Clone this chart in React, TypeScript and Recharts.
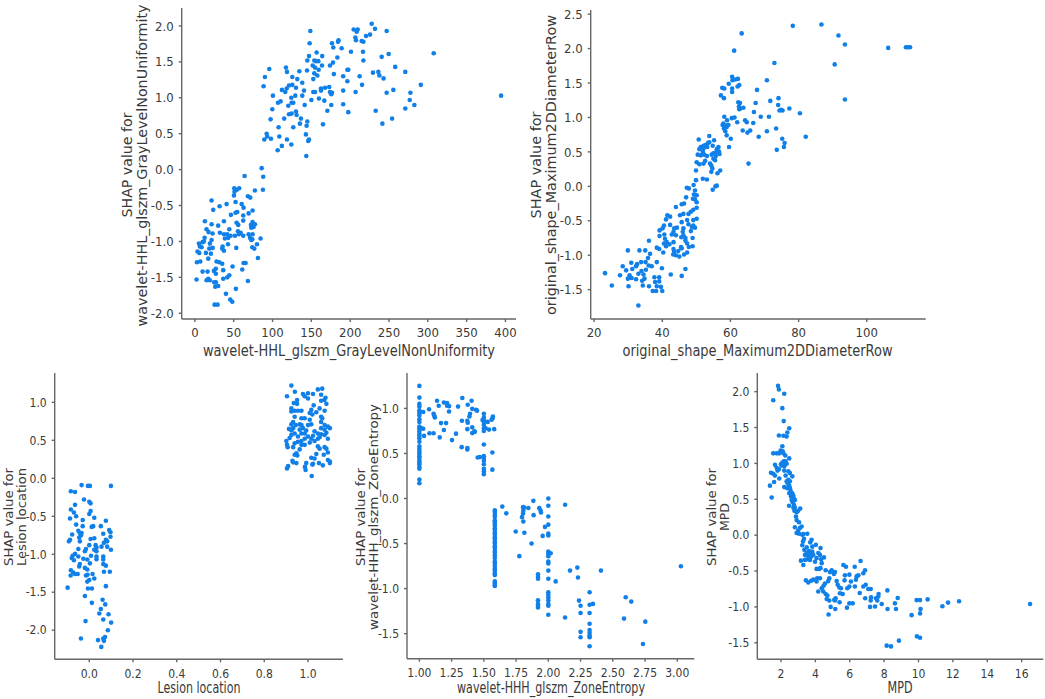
import React from "react";
import { ScatterChart, Scatter, XAxis, YAxis } from "recharts";

type Pair = number[];

const glrlmPoints: Pair[] = [[394.4,1.03],[307.6,1.62],[291,1.18],[277.6,1.07],[276.7,.97],[282.7,.9],[271,.85],[271,1.36],[258,1.43],[255.6,1.11],[254,.71],[249.6,1.61],[247,1.93],[247,1.07],[241.5,.64],[232.9,.82],[243,1.27],[240.6,1.57],[232,1.96],[227.7,2.03],[225.6,1.88],[220.4,1.86],[229.4,1.35],[236.3,1.36],[237.6,1.31],[217,1.52],[216.5,1.64],[214.8,1.79],[217,1.78],[207.5,1.8],[206.7,1.84],[204.5,1.95],[209.7,1.95],[208.4,1.92],[201,1.64],[212.2,1.3],[215.3,1.18],[207,1.08],[196.4,1.23],[196.4,1.39],[197.6,1.39],[191,1.3],[191,1.1],[191,.91],[197.6,.8],[189,1.69],[185,1.8],[184.3,1.78],[183.5,1.56],[178.3,1.7],[176.6,1.76],[177.9,1.49],[174,1.45],[179,1.33],[167.6,1.14],[173,1.15],[174,1.08],[176.6,1.07],[175.7,1.05],[175.7,.9],[170.6,.82],[166.7,.96],[159.8,.99],[165,.63],[162.4,1.13],[162.4,1.1],[150,.97],[152.5,1.08],[154.7,1.08],[152.5,1.26],[157.7,1.31],[153.8,1.34],[159.4,1.39],[163.7,1.45],[164,1.58],[156.8,1.63],[159,1.51],[156,1.51],[153.8,1.52],[154.7,1.42],[151.7,1.45],[147,1.58],[144.8,1.52],[144.4,1.38],[147.8,1.76],[148.7,1.93],[134.5,1.37],[131.9,1.26],[138.3,1.21],[125.5,1.29],[117.3,1.42],[118.6,1.36],[125.5,1.18],[121.2,1.17],[118.2,1.13],[116.4,1.08],[112.1,1.11],[130.2,1.14],[140.5,1.1],[138.3,1.03],[129.3,1.03],[124.2,1],[120.3,.89],[126.7,.93],[124.6,.93],[141.4,.9],[110.4,.95],[107,.93],[100.5,1.03],[99.7,.84],[97.5,.7],[115,.71],[121.2,.77],[124.6,.78],[130.2,.81],[131,.76],[136.6,.71],[135.3,.64],[144.8,.67],[143.9,.61],[126.7,.59],[107.8,.59],[143,.49],[147,.42],[146,.4],[108.7,.46],[118.6,.42],[124.2,.35],[112,.33],[106.6,.27],[143.5,.19],[98,.43],[92.4,.5],[93.2,.46],[89.4,.42],[95.8,1.4],[90.2,1.29],[88.5,1.16],[86,.02],[88,-.1],[87.6,-.28],[64,-.09],[77.3,-.29],[57,-.26],[50.7,-.26],[54,-.28],[51,-.31],[50.3,-.36],[68.3,-.37],[71.3,-.39],[52.4,-.45],[60.2,-.48],[40.8,-.48],[21.5,-.43],[31.8,-.51],[23.6,-.56],[62.7,-.53],[74.3,-.57],[54.6,-.59],[52.4,-.6],[46.4,-.63],[62.3,-.64],[69.2,-.61],[62.3,-.71],[12.9,-.72],[37.4,-.72],[21.5,-.76],[30,-.78],[53.7,-.74],[55.9,-.77],[74.3,-.73],[77.3,-.76],[72.2,-.77],[75.6,-.8],[72.6,-.81],[15,-.83],[44.3,-.83],[17.6,-.87],[22.8,-.89],[32.2,-.88],[37.4,-.9],[41.7,-.9],[55.4,-.86],[58.9,-.88],[56.7,-.9],[46,-.92],[51.6,-.92],[62.3,-.92],[69.2,-.9],[74.3,-.9],[84.6,-.96],[70.9,-.95],[73.9,-.97],[72.6,-.98],[12.5,-.95],[21.5,-.98],[38.6,-.96],[43,-.95],[11.6,-1],[5.2,-1.03],[9.9,-1.01],[19.3,-1.03],[42.6,-1.04],[80,-1.04],[6.4,-1.07],[8.6,-1.08],[35.7,-1.07],[35.2,-1.1],[18.5,-1.1],[22.8,-1.09],[53.3,-1.09],[73.9,-1.08],[76.5,-1.1],[3.4,-1.14],[5.6,-1.16],[14.2,-1.16],[37.4,-1.13],[20.6,-1.17],[17.2,-1.24],[81.2,-1.23],[2.6,-1.29],[6.9,-1.28],[27.9,-1.28],[31.4,-1.29],[35.2,-1.31],[62.7,-1.3],[65.3,-1.3],[48.5,-1.35],[61,-1.39],[36.5,-1.4],[9.9,-1.42],[16.3,-1.42],[27,-1.38],[24.5,-1.41],[27,-1.45],[44.3,-1.47],[41.7,-1.5],[36.5,-1.52],[2.1,-1.53],[17.2,-1.52],[15,-1.54],[19.3,-1.54],[68.3,-1.55],[24.9,-1.57],[27,-1.57],[26.2,-1.63],[30,-1.62],[52.8,-1.66],[40,-1.73],[45.5,-1.81],[48.1,-1.84],[25.3,-1.88],[29.2,-1.88]];

const diameterPoints: Pair[] = [[112.7,2.02],[112,2.02],[111.5,2.02],[106.3,2.01],[93.6,2.06],[91.7,2.19],[86.7,2.35],[78.3,2.33],[90.6,1.77],[93.6,1.26],[63.3,2.22],[61.1,1.97],[72.9,1.79],[70.7,1.54],[67.8,1.4],[67.4,1.21],[71.7,1.24],[74.1,1.28],[74,1.18],[74.4,1.1],[75.3,1.1],[74.9,1.11],[77.3,1.13],[80.4,1.06],[71.3,1.01],[68.9,1.01],[66.9,1.08],[66.7,.92],[73.4,.84],[70.7,.8],[68.3,.72],[82.1,.72],[75.2,.69],[75.9,.63],[75.7,.57],[73.6,.53],[65.3,.33],[64.3,.96],[64.8,.93],[65.8,.81],[65,.78],[63.6,.81],[62,.93],[61.2,1],[60.4,.99],[58.2,1.01],[59,.96],[57.9,.91],[57.7,.89],[58.4,.89],[59.4,.89],[58.1,.84],[58.9,.86],[58.5,.8],[58.9,.74],[60.1,.69],[59.6,.57],[62.3,1.22],[62.8,1.21],[62.5,1.16],[62.9,1.13],[63.8,1.14],[62.6,1.12],[57.2,1.32],[58.1,1.28],[57.6,1.43],[58.2,1.42],[59.5,1.49],[60.5,1.59],[60.6,1.54],[61.4,1.55],[62.2,1.56],[60.5,1.42],[60.5,1.37],[62.1,1.45],[62.6,1.47],[50.7,.68],[53.8,.73],[55.2,.67],[53.4,.63],[53.8,.64],[52.7,.6],[52.1,.59],[51.3,.57],[50.9,.54],[52.1,.55],[53.2,.57],[54.8,.59],[56.5,.57],[56,.54],[56.6,.51],[55.7,.49],[56.8,.47],[55,.48],[54.5,.46],[55.7,.44],[55,.4],[55.5,.38],[50.4,.46],[51.3,.45],[52.3,.46],[53.1,.44],[51.9,.5],[50.1,.35],[50.9,.32],[52.6,.37],[52.1,.33],[54,.33],[54.4,.3],[54.7,.26],[54.4,.21],[56.2,.19],[57,.23],[49.9,.23],[51.9,.11],[53.1,.1],[49.9,.09],[49.2,.02],[56,.01],[55.6,0],[54.8,-.05],[47.2,-.02],[47.8,-.03],[49.6,-.06],[49.3,-.12],[50.1,-.13],[47,-.16],[49,-.18],[49.6,-.19],[50.1,-.23],[46.4,-.25],[45.7,-.26],[44,-.3],[50.1,-.31],[49.1,-.34],[48.4,-.37],[47.7,-.4],[46.2,-.4],[45.2,-.42],[41.5,-.42],[42.3,-.44],[41.1,-.48],[50.1,-.47],[49.1,-.49],[47.3,-.49],[45.7,-.52],[47.7,-.55],[40.5,-.57],[42.3,-.56],[49.1,-.57],[48.7,-.59],[49.6,-.6],[44.3,-.6],[43.5,-.61],[46.2,-.61],[39.2,-.64],[40.1,-.61],[48.4,-.65],[46,-.66],[43.3,-.66],[42.8,-.7],[39.2,-.72],[40.6,-.7],[44,-.71],[46.2,-.71],[45.6,-.74],[46.8,-.75],[48.9,-.75],[40.8,-.76],[36.1,-.79],[41.3,-.81],[43.3,-.81],[46.8,-.79],[40.5,-.83],[42.1,-.84],[47.3,-.83],[41.1,-.87],[38.4,-.89],[45.5,-.88],[47.8,-.88],[48.9,-.87],[39.1,-.91],[43.3,-.91],[45.7,-.9],[29.9,-.93],[33.3,-.93],[35,-.93],[40.3,-.96],[43.5,-.95],[44.7,-.94],[47.3,-.96],[36.4,-.98],[43.2,-.99],[44,-1],[46.4,-.99],[45,-1.02],[35.8,-1.04],[35.1,-1.1],[33.8,-1.1],[30.9,-1.11],[38.4,-1.1],[28.4,-1.16],[32.6,-1.13],[32.3,-1.16],[36,-1.15],[36.9,-1.16],[39.9,-1.19],[46.8,-1.2],[29.4,-1.22],[31.2,-1.2],[35.2,-1.21],[33.9,-1.23],[42.5,-1.28],[45.7,-1.3],[27.6,-1.29],[30.4,-1.29],[23.2,-1.26],[33,-1.27],[34.5,-1.28],[29.9,-1.34],[31,-1.33],[32.3,-1.35],[34.8,-1.34],[37.7,-1.32],[39.1,-1.32],[39.1,-1.38],[34.1,-1.37],[37.9,-1.39],[25.2,-1.44],[30.1,-1.45],[34.3,-1.44],[36.1,-1.45],[38.4,-1.45],[39.6,-1.46],[37.2,-1.52],[38.2,-1.52],[40,-1.52],[33,-1.73]];

const lesionPoints: Pair[] = [[.924,1.22],[1.065,1.18],[1.045,1.17],[.94,1.14],[.904,1.08],[.977,1.11],[1,1.12],[1.023,1.11],[.985,1.08],[1.06,1.1],[1.08,1.06],[.95,1.03],[1.075,1.03],[1.06,1.02],[1,1.05],[.935,.99],[.95,.98],[1.084,.98],[1.026,.96],[1.053,.92],[.924,.92],[.939,.89],[.954,.89],[.97,.89],[1.015,.9],[.924,.88],[1.008,.86],[1.038,.87],[1.076,.89],[1.02,.84],[1.06,.81],[.939,.81],[.97,.79],[.985,.79],[1.008,.77],[1.065,.79],[.932,.74],[.924,.71],[1.06,.74],[.962,.71],[1.015,.71],[1.076,.7],[.944,.7],[.97,.7],[1,.7],[1.091,.68],[.913,.65],[.932,.66],[.977,.66],[1.06,.66],[1.1,.66],[.924,.63],[.962,.64],[.992,.63],[1.03,.62],[1.076,.64],[1.084,.6],[.939,.59],[.97,.59],[.985,.59],[1.045,.59],[1.06,.58],[.924,.57],[.954,.55],[1,.55],[1.023,.56],[1.076,.57],[.916,.53],[.985,.52],[1.015,.52],[1.091,.52],[1.045,.52],[1.053,.54],[.901,.49],[.97,.49],[1.03,.49],[.939,.46],[.954,.48],[1.008,.47],[.985,.44],[.904,.44],[.97,.44],[.932,.41],[1.045,.42],[1.076,.41],[.907,.41],[.962,.38],[1.053,.39],[1.084,.39],[1.091,.34],[.947,.33],[.939,.31],[1.038,.32],[.951,.3],[1.072,.31],[1.015,.27],[1.03,.26],[.929,.23],[1.091,.24],[.932,.21],[1.1,.22],[.947,.2],[.992,.2],[1.05,.2],[1.1,.2],[1.023,.19],[1.02,.18],[1.068,.17],[.909,.16],[.904,.13],[.986,.15],[.989,.11],[1.017,.03],[.099,-.1],[-.035,-.09],[-.006,-.1],[.003,-.1],[-.084,-.17],[-.065,-.18],[-.024,-.28],[0,-.31],[.006,-.33],[-.065,-.35],[-.084,-.41],[-.07,-.45],[.006,-.43],[0,-.47],[-.06,-.5],[-.088,-.53],[.023,-.52],[-.03,-.55],[.076,-.56],[-.06,-.61],[-.03,-.63],[.018,-.63],[.011,-.64],[.053,-.63],[-.05,-.69],[.091,-.68],[.097,-.71],[-.078,-.74],[-.043,-.72],[-.038,-.75],[-.035,-.72],[.064,-.73],[.097,-.77],[-.046,-.78],[.006,-.8],[.023,-.79],[-.088,-.81],[-.093,-.83],[-.043,-.83],[.076,-.81],[.082,-.83],[.067,-.85],[.056,-.9],[0,-.88],[.029,-.88],[.033,-.91],[-.015,-.93],[-.05,-.93],[.023,-.94],[.099,-.94],[.082,-.9],[-.02,-.96],[.033,-.96],[-.065,-.995],[-.076,-1.02],[.008,-1.02],[.033,-1.03],[.064,-1.03],[-.05,-1.03],[-.08,-1.05],[-.027,-1.06],[-.07,-1.08],[-.009,-1.07],[.064,-1.07],[.033,-1.065],[.003,-1.12],[-.043,-1.13],[.064,-1.13],[.076,-1.15],[-.046,-1.16],[-.02,-1.18],[-.084,-1.21],[-.009,-1.2],[.094,-1.23],[.067,-1.23],[-.073,-1.24],[-.053,-1.26],[-.065,-1.26],[.015,-1.26],[-.085,-1.28],[-.015,-1.28],[-.008,-1.27],[.023,-1.32],[0,-1.34],[-.009,-1.36],[-.099,-1.44],[-.006,-1.45],[.012,-1.45],[.076,-1.42],[-.02,-1.55],[.061,-1.6],[.012,-1.64],[.073,-1.66],[.053,-1.72],[.046,-1.78],[.088,-1.79],[.064,-1.86],[-.017,-1.88],[.1,-1.9],[.085,-2],[-.038,-2.11],[.072,-2.09],[.064,-2.11],[.04,-2.13],[.067,-2.14],[.055,-2.22]];

const entropyScattered: Pair[] = [[1.03,.96],[1.075,.99],[1.11,.94],[1.115,.92],[1.12,.9],[1.137,1.085],[1.15,1.03],[1.19,1.065],[1.215,1.06],[1.215,1.03],[1.23,1.025],[1.23,.965],[1.3,1.02],[1.333,1.115],[1.375,1.04],[1.405,1.085],[1.41,.995],[1.44,.985],[1.447,.975],[1.393,.94],[1.388,.91],[1.33,.863],[1.372,.863],[1.375,.84],[1.168,.837],[1.207,.837],[1.41,.79],[1.372,.77],[1.19,.76],[1.018,.78],[1.03,.775],[1.426,.745],[1.43,.74],[1.41,.726],[1.078,.725],[1.11,.725],[1.284,.72],[1.036,.695],[1.158,.678],[1.253,.648],[1.328,.57],[1.372,.56],[1.372,.545],[1.49,.87],[1.53,.85],[1.56,.875],[1.568,.89],[1.57,.91],[1.514,.78],[1.54,.765],[1.58,.77],[1.566,.51],[1.566,.32],[1.452,.455],[1.47,.46],[1.643,-.09],[1.674,-.165],[1.747,-.367],[1.814,-.38],[1.775,-.64],[1.87,-.5],[1.884,-.026],[1.886,-.185],[1.845,-.105],[1.796,-.207],[1.806,-.255],[1.804,-.096],[1.814,-.1],[1.806,-.137],[1.804,-.167],[1.93,-.107],[1.94,-.133],[1.943,-.155],[1.974,-.315],[1.956,-.415],[2.018,-.607],[2.057,-.92],[2.13,-.07],[2.13,-1.32],[2.168,-.8],[2.225,-.767],[2.23,-.877],[2.238,-1.133],[2.346,-1.17],[2.408,-.8],[2.6,-1.096],[2.643,-1.144],[2.587,-1.333],[2.752,-1.367],[2.734,-1.615],[3.028,-.752]];
const entropyAt100 = [1.25,1.12,1.05,1.02,.98,.95,.92,.88,.85,.8,.78,.75,.72,.7,.67,.63,.58,.55,.52,.5,.47,.45,.42,.4,.38,.35,.33,.21,.17];
const entropyAt150 = [.94,.9,.87,.85,.82,.78,.75,.6,.47,.45,.42,.38,.33,.3,.27];
const entropyAt158 = [-.13,-.15,-.18,-.2,-.24,-.26,-.28,-.3,-.33,-.35,-.38,-.4,-.43,-.45,-.48,-.5,-.53,-.55,-.58,-.6,-.63,-.66,-.7,-.72,-.75,-.78,-.8,-.83,-.85,-.92,-.94,-.96,-.97];
const entropyAt192 = [-.84,-.87,-.89,-1.13,-1.17,-1.19,-1.21];
const entropyAt200 = [0,-.08,-.2,-.29,-.39,-.41,-.59,-.61,-.64,-.7,-.72,-.8,-.89,-1.04,-1.07,-1.1,-1.13,-1.17,-1.19,-1.29];
const entropyAt225 = [-1.19,-1.27,-1.48,-1.54];
const entropyAt232 = [-1.04,-1.18,-1.27,-1.39,-1.46,-1.49,-1.52,-1.54,-1.64];
const entropyPoints: Pair[] = [
  ...entropyScattered,
  ...entropyAt100.map((y) => [1, y]),
  ...entropyAt150.map((y) => [1.5, y]),
  ...entropyAt158.map((y) => [1.585, y]),
  ...entropyAt192.map((y) => [1.92, y]),
  ...entropyAt200.map((y) => [2, y]),
  ...entropyAt225.map((y) => [2.25, y]),
  ...entropyAt232.map((y) => [2.32, y]),
];

const mpdPoints: Pair[] = [[1.83,2.08],[1.88,2.03],[2.19,1.97],[1.55,1.88],[2.08,1.77],[2.16,1.59],[2.48,1.49],[2.37,1.43],[1.88,1.39],[2.14,1.385],[2.33,1.375],[2.08,1.24],[1.55,1.14],[1.75,1.14],[1.9,1.14],[1.98,1.18],[2.1,1.17],[2.14,1.14],[2.25,1.11],[2.48,1.07],[1.65,.98],[2,.99],[2.08,1.01],[2.16,1.03],[2.23,1],[2.12,.98],[2.19,.96],[2.27,1.03],[2.33,.995],[2.04,.97],[1.75,.94],[1.88,.92],[1.8,.9],[1.42,.87],[1.55,.855],[1.65,.83],[2.19,.9],[2.43,.89],[2.52,.865],[2.66,.82],[2.27,.83],[1.9,.79],[1.6,.74],[1.36,.69],[1.46,.525],[2.43,.77],[2.33,.75],[2.52,.75],[2.39,.72],[2.48,.69],[2.19,.67],[2.37,.655],[2.52,.655],[2.56,.62],[2.48,.585],[2.66,.585],[2.72,.55],[2.58,.54],[2.76,.51],[2.62,.49],[2.81,.49],[2.68,.46],[2.47,.41],[2.76,.42],[2.72,.385],[2.81,.385],[3.12,.37],[3,.34],[2.78,.34],[2.91,.32],[2.87,.26],[2.91,.21],[3.05,.18],[2.81,.11],[3.2,.12],[3.1,.1],[3,.065],[2.91,.03],[3.05,.02],[3.24,.005],[3.3,.015],[3.53,.02],[3.34,-.05],[3.28,-.09],[3.24,-.14],[3.78,-.065],[3.7,-.1],[4.03,-.135],[4.3,-.18],[3.5,-.17],[3.36,-.205],[3.82,-.16],[3.63,-.22],[3.5,-.25],[3.69,-.25],[3.82,-.23],[3.4,-.275],[3.59,-.29],[3.75,-.3],[3.88,-.275],[4.17,-.25],[4.27,-.275],[3.55,-.335],[3.4,-.345],[3.16,-.355],[3.69,-.345],[4.07,-.32],[4.33,-.335],[4.5,-.31],[3.98,-.37],[4.37,-.39],[3.3,-.415],[4.21,-.47],[4.07,-.47],[4.3,-.46],[3.45,-.63],[3.59,-.66],[3.75,-.635],[3.88,-.62],[4.11,-.6],[4.27,-.6],[4.07,-.645],[4.6,-.49],[4.95,-.49],[4.85,-.515],[5.14,-.515],[5.08,-.54],[4.81,-.6],[4.75,-.64],[4.56,-.675],[4.48,-.705],[4.37,-.74],[4.17,-.785],[4.46,-.785],[4.6,-.82],[4.7,-.84],[4.66,-.89],[4.81,-.91],[4.89,-1],[5.16,-1.03],[4.77,-1.105],[5.14,-.91],[5.24,-.64],[5.3,-.69],[5.4,-.73],[5.49,-.74],[5.59,-.82],[5.43,-.81],[5.41,-.935],[5.63,-.415],[5.78,-.44],[5.72,-.56],[5.7,-.63],[5.98,-.55],[5.86,-.74],[5.98,-.715],[6.07,-.645],[6.29,-.44],[6.63,-.36],[6.4,-.575],[6.5,-.56],[6.36,-.62],[6.3,-.715],[6.58,-.805],[6.89,-.49],[6.79,-.53],[6.79,-.715],[6.93,-.69],[6.9,-.88],[7.08,-.75],[7.22,-.75],[7.24,-.865],[7.22,-.91],[7.18,-1],[7.47,-.995],[7.53,-.88],[7.66,-.855],[7.68,-.82],[7.6,-.91],[7.86,-.96],[8.19,-.77],[8.2,-1.03],[5.84,-1.01],[5.98,-.95],[6.17,-.95],[8.79,-.875],[8.63,-.95],[8.69,-1.03],[8.15,-1.54],[8.4,-1.55],[8.86,-1.47],[9.6,-1.115],[9.89,-.905],[10.09,-.905],[10.53,-.895],[10.12,-1.03],[10.09,-1.09],[9.91,-1.41],[10.09,-1.43],[11.39,-.99],[11.72,-.94],[12.36,-.92],[16.49,-.96],[5.18,-.88],[5.1,-.9]];

const hhlXTicks = [0, 50, 100, 150, 200, 250, 300, 350, 400];
const hhlYTicks = [-2, -1.5, -1, -0.5, 0, 0.5, 1, 1.5, 2];
const diameterXTicks = [20, 40, 60, 80, 100];
const diameterYTicks = [-1.5, -1, -0.5, 0, 0.5, 1, 1.5, 2, 2.5];
const lesionXTicks = [0, 0.2, 0.4, 0.6, 0.8, 1];
const lesionYTicks = [-2, -1.5, -1, -0.5, 0, 0.5, 1];
const entropyXTicks = [1, 1.25, 1.5, 1.75, 2, 2.25, 2.5, 2.75, 3];
const entropyYTicks = [-1.5, -1, -0.5, 0, 0.5, 1];
const mpdXTicks = [2, 4, 6, 8, 10, 12, 14, 16];
const mpdYTicks = [-1.5, -1, -0.5, 0, 0.5, 1, 1.5, 2];

const DOT = "#1080E8";
const AXIS = "#666666";
const INK = "#3a3a3a";
const W = 1045;
const H = 699;
const YW = 50;
const XH = 40;

type PanelProps = {
  points: Pair[];
  box: number[]; // left, top, right, bottom
  xDomain: number[];
  yDomain: number[];
  xTicks: number[];
  yTicks: number[];
  xFmt: (v: number) => string;
  xLabel: { text: string; x: number; y: number; len: number };
  yLabels: { text: string; x: number; y: number; len: number }[];
  fs: number;
  yFs: number;
  tickFs: number;
  xMargin: number;
};

const dot = (p: any) => <circle cx={p.cx} cy={p.cy} r={2.3} fill={DOT} />;

function Panel({ points, box, xDomain, yDomain, xTicks, yTicks, xFmt, xLabel, yLabels, fs, yFs, tickFs, xMargin }: PanelProps) {
  const data = points.map(([x, y]) => ({ x, y }));
  const tickStyle = { fontSize: tickFs, fontFamily: "'DejaVu Sans Condensed', 'DejaVu Sans'", fill: INK };
  return (
    <div style={{ position: "absolute", left: 0, top: 0, width: W, height: H, overflow: "hidden" }}>
      <ScatterChart
        width={W}
        height={H}
        margin={{ left: box[0] - YW, top: box[1], right: W - box[2], bottom: H - box[3] - XH }}
      >
        <XAxis
          type="number"
          dataKey="x"
          domain={xDomain}
          ticks={xTicks}
          tickFormatter={xFmt}
          allowDataOverflow
          height={XH}
          tick={tickStyle}
          stroke={AXIS}
          strokeWidth={1.4}
          tickSize={3}
          tickMargin={xMargin}
          interval={0}
        />
        <YAxis
          type="number"
          dataKey="y"
          domain={yDomain}
          ticks={yTicks}
          tickFormatter={(v: number) => v.toFixed(1)}
          allowDataOverflow
          width={YW}
          tick={tickStyle}
          stroke={AXIS}
          strokeWidth={1.4}
          tickSize={3}
          tickMargin={5}
          interval={0}
        />
        <Scatter data={data} shape={dot} isAnimationActive={false} />
        <text
          x={xLabel.x}
          y={xLabel.y}
          textAnchor="middle"
          dominantBaseline="central"
          fontSize={fs}
          fontFamily="'DejaVu Sans'"
          fill={INK}
          textLength={xLabel.len}
          lengthAdjust="spacingAndGlyphs"
        >
          {xLabel.text}
        </text>
        {yLabels.map((l) => (
          <text
            key={l.text}
            x={l.x}
            y={l.y}
            transform={`rotate(-90 ${l.x} ${l.y})`}
            textAnchor="middle"
            dominantBaseline="central"
            fontSize={yFs}
            fontFamily="'DejaVu Sans'"
            fill={INK}
            textLength={l.len}
            lengthAdjust="spacingAndGlyphs"
          >
            {l.text}
          </text>
        ))}
      </ScatterChart>
    </div>
  );
}

const f0 = (v: number) => String(v);
const f1 = (v: number) => v.toFixed(1);
const f2 = (v: number) => v.toFixed(2);

export default function App() {
  return (
    <div style={{ position: "absolute", left: 0, top: 0, width: W, height: H, background: "#fff", overflow: "hidden" }}>
      <Panel
        points={glrlmPoints}
        box={[181.7, 8, 516, 319]}
        xDomain={[-17, 413.6]}
        yDomain={[-2.08, 2.25]}
        xTicks={hhlXTicks}
        yTicks={hhlYTicks}
        xFmt={f0}
        fs={16}
        yFs={14}
        tickFs={13}
        xMargin={6}
        xLabel={{ text: "wavelet-HHL_glszm_GrayLevelNonUniformity", x: 349, y: 350, len: 292 }}
        yLabels={[
          { text: "SHAP value for", x: 127, y: 165, len: 105 },
          { text: "wavelet-HHL_glszm_GrayLevelNonUniformity", x: 142, y: 165.5, len: 322 },
        ]}
      />
      <Panel
        points={diameterPoints}
        box={[590.7, 10, 925.7, 319]}
        xDomain={[19, 117.3]}
        yDomain={[-1.926, 2.56]}
        xTicks={diameterXTicks}
        yTicks={diameterYTicks}
        xFmt={f0}
        fs={16}
        yFs={14}
        tickFs={13}
        xMargin={6}
        xLabel={{ text: "original_shape_Maximum2DDiameterRow", x: 757.5, y: 350, len: 270 }}
        yLabels={[
          { text: "SHAP value for", x: 536, y: 165, len: 107 },
          { text: "original_shape_Maximum2DDiameterRow", x: 551, y: 165, len: 300 },
        ]}
      />
      <Panel
        points={lesionPoints}
        box={[54.7, 373, 343, 659.3]}
        xDomain={[-0.158, 1.16]}
        yDomain={[-2.383, 1.386]}
        xTicks={lesionXTicks}
        yTicks={lesionYTicks}
        xFmt={f1}
        fs={15}
        yFs={13}
        tickFs={12}
        xMargin={7}
        xLabel={{ text: "Lesion location", x: 199, y: 688, len: 83 }}
        yLabels={[
          { text: "SHAP value for", x: 8.5, y: 517, len: 98 },
          { text: "Lesion location", x: 21, y: 517, len: 98 },
        ]}
      />
      <Panel
        points={entropyPoints}
        box={[407, 373, 694.3, 658.7]}
        xDomain={[0.904, 3.132]}
        yDomain={[-1.778, 1.393]}
        xTicks={entropyXTicks}
        yTicks={entropyYTicks}
        xFmt={f2}
        fs={15}
        yFs={13}
        tickFs={12}
        xMargin={7}
        xLabel={{ text: "wavelet-HHH_glszm_ZoneEntropy", x: 551, y: 688, len: 188 }}
        yLabels={[
          { text: "SHAP value for", x: 360, y: 517, len: 98 },
          { text: "wavelet-HHH_glszm_ZoneEntropy", x: 373, y: 517, len: 226 },
        ]}
      />
      <Panel
        points={mpdPoints}
        box={[757.3, 373, 1043.3, 659.3]}
        xDomain={[0.623, 17.26]}
        yDomain={[-1.73, 2.26]}
        xTicks={mpdXTicks}
        yTicks={mpdYTicks}
        xFmt={f0}
        fs={15}
        yFs={13}
        tickFs={12}
        xMargin={7}
        xLabel={{ text: "MPD", x: 900, y: 688, len: 25 }}
        yLabels={[
          { text: "SHAP value for", x: 711, y: 517, len: 98 },
          { text: "MPD", x: 724, y: 517, len: 28 },
        ]}
      />
    </div>
  );
}
